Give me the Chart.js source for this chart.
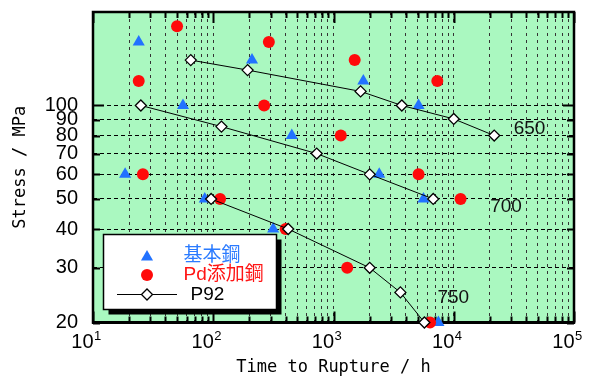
<!DOCTYPE html>
<html>
<head>
<meta charset="utf-8">
<script src="https://cdn.jsdelivr.net/npm/chart.js@4.4.1/dist/chart.umd.min.js"></script>
<style>
  html, body { margin: 0; padding: 0; background: #ffffff; }
  #wrap { width: 592px; height: 378px; position: relative; }
</style>
</head>
<body>
<div id="wrap"><canvas id="c" width="592" height="378"></canvas></div>
<script>
// Creep rupture data: time to rupture (h) vs. stress (MPa)
const baseSteel = [
  { x: 24, y: 160 }, { x: 56, y: 100 }, { x: 210, y: 140 }, { x: 1770, y: 120 },
  { x: 5100, y: 100 }, { x: 450, y: 80 }, { x: 18.5, y: 60 }, { x: 2400, y: 60 },
  { x: 5600, y: 50 }, { x: 85, y: 50 }, { x: 315, y: 40 }, { x: 7450, y: 20 }
];
const pdSteel = [
  { x: 50, y: 180 }, { x: 290, y: 160 }, { x: 24, y: 120 }, { x: 1500, y: 140 },
  { x: 7300, y: 120 }, { x: 265, y: 100 }, { x: 1150, y: 80 }, { x: 26, y: 60 },
  { x: 5100, y: 60 }, { x: 11400, y: 50 }, { x: 114, y: 50 }, { x: 400, y: 40 },
  { x: 1300, y: 30 }, { x: 6350, y: 20 }
];
const p92At650 = [
  { x: 65, y: 140 }, { x: 193, y: 130 }, { x: 1680, y: 111 }, { x: 3700, y: 100 },
  { x: 10000, y: 90.5 }, { x: 21700, y: 80 }
];
const p92At700 = [
  { x: 25, y: 100 }, { x: 117, y: 85.5 }, { x: 725, y: 70 }, { x: 2000, y: 60 }, { x: 6750, y: 50 }
];
const p92At750 = [
  { x: 96, y: 50 }, { x: 420, y: 40 }, { x: 2000, y: 30 }, { x: 3600, y: 25 }, { x: 5700, y: 20 }
];

// Temperature labels (°C) placed in data coordinates
const tempLabels = [
  { text: '650', x: 42700, y: 84.3 },
  { text: '700', x: 27200, y: 47.2 },
  { text: '750', x: 9910, y: 24.0 }
];

// Axis ticks
const yTickValues = [20, 30, 40, 50, 60, 70, 80, 90, 100];
const xTickExponents = [1, 2, 3, 4, 5];

const legendItems = [
  { text: '基本鋼', color: '#2b7bff', kind: 'triangle' },
  { text: 'Pd添加鋼', color: '#ff1414', kind: 'circle' },
  { text: 'P92', color: '#000000', kind: 'p92' }
];

const BLUE = '#2272ff';
const RED = '#ff0a0a';
const PLOT_BG = '#aaf8c0';

// x grid: 1..9 × 10^n inside the decade range
const xGridValues = [];
for (let i = 0; i < xTickExponents.length; i++) {
  const e = xTickExponents[i];
  if (i === xTickExponents.length - 1) { xGridValues.push(10 ** e); break; }
  for (let m = 1; m <= 9; m++) xGridValues.push(m * 10 ** e);
}
const xMajors = xTickExponents.map(e => 10 ** e);

const bgPlugin = {
  id: 'plotBg',
  beforeDraw(chart) {
    const { ctx, chartArea: a } = chart;
    ctx.save();
    ctx.fillStyle = PLOT_BG;
    ctx.fillRect(a.left, a.top, a.right - a.left, a.bottom - a.top);
    ctx.restore();
  }
};

const framePlugin = {
  id: 'frame',
  beforeDatasetsDraw(chart) {
    const { ctx, chartArea: a } = chart;
    const xs = chart.scales.x, ys = chart.scales.y;
    ctx.save();
    ctx.strokeStyle = '#000';
    ctx.lineWidth = 2;
    ctx.beginPath();
    xs.ticks.forEach(t => {
      const px = Math.round(xs.getPixelForValue(t.value)) + 0.5;
      const len = xMajors.includes(t.value) ? 11 : 6;
      ctx.moveTo(px, a.top); ctx.lineTo(px, a.top + len);
      ctx.moveTo(px, a.bottom); ctx.lineTo(px, a.bottom - len);
    });
    ys.ticks.forEach(t => {
      const py = Math.round(ys.getPixelForValue(t.value)) + 0.5;
      const len = t.value === 100 ? 11 : 7;
      ctx.moveTo(a.left, py); ctx.lineTo(a.left + len, py);
      ctx.moveTo(a.right, py); ctx.lineTo(a.right - len, py);
    });
    ctx.stroke();
    ctx.lineWidth = 2.5;
    ctx.strokeRect(a.left, a.top, a.right - a.left, a.bottom - a.top);
    ctx.lineWidth = 3;
    ctx.beginPath();
    ctx.moveTo(a.left - 1, a.bottom); ctx.lineTo(a.right + 1, a.bottom);
    ctx.stroke();
    ctx.restore();
  }
};

const xLabelPlugin = {
  id: 'xPowerLabels',
  afterDraw(chart) {
    const { ctx } = chart;
    const xs = chart.scales.x;
    ctx.save();
    ctx.fillStyle = '#000';
    ctx.textBaseline = 'alphabetic';
    xTickExponents.forEach(e => {
      const px = xs.getPixelForValue(10 ** e);
      ctx.font = "20px 'Liberation Sans Narrow', 'Liberation Sans', Arial, sans-serif";
      ctx.textAlign = 'right';
      ctx.fillText('10', px + 0.5, 348);
      ctx.font = "13px 'Liberation Sans', Arial, sans-serif";
      ctx.textAlign = 'left';
      ctx.fillText(String(e), px + 1, 340);
    });
    ctx.restore();
  }
};

function drawMarker(ctx, kind, x, y) {
  if (kind === 'triangle') {
    const r = 7;
    ctx.fillStyle = BLUE;
    ctx.beginPath();
    ctx.moveTo(x, y - r);
    ctx.lineTo(x + r * Math.sin(2 * Math.PI / 3), y - r * Math.cos(2 * Math.PI / 3));
    ctx.lineTo(x + r * Math.sin(4 * Math.PI / 3), y - r * Math.cos(4 * Math.PI / 3));
    ctx.closePath();
    ctx.fill();
  } else if (kind === 'circle') {
    ctx.fillStyle = RED;
    ctx.beginPath();
    ctx.arc(x, y, 6, 0, Math.PI * 2);
    ctx.fill();
  } else {
    ctx.strokeStyle = '#000';
    ctx.lineWidth = 1;
    ctx.beginPath();
    ctx.moveTo(x - 30, y); ctx.lineTo(x + 30, y);
    ctx.stroke();
    const r = 5.5;
    ctx.fillStyle = '#fff';
    ctx.lineWidth = 1.3;
    ctx.beginPath();
    ctx.moveTo(x - r, y); ctx.lineTo(x, y - r); ctx.lineTo(x + r, y); ctx.lineTo(x, y + r);
    ctx.closePath();
    ctx.fill();
    ctx.stroke();
  }
}

const overlayPlugin = {
  id: 'overlay',
  afterDatasetsDraw(chart) {
    const { ctx, chartArea: a } = chart;
    const xs = chart.scales.x, ys = chart.scales.y;
    ctx.save();
    // temperature labels
    ctx.fillStyle = '#111';
    ctx.font = "19px 'Liberation Sans Narrow', 'Liberation Sans', Arial, sans-serif";
    ctx.textAlign = 'center';
    ctx.textBaseline = 'middle';
    tempLabels.forEach(l => {
      ctx.fillText(l.text, xs.getPixelForValue(l.x), ys.getPixelForValue(l.y));
    });

    // legend box with drop shadow
    const bx = a.left + 10.5, by = a.top + 222.5, bw = 173, bh = 75, sh = 5;
    ctx.fillStyle = '#000';
    ctx.fillRect(bx + sh, by + sh, bw, bh);
    ctx.fillStyle = '#fff';
    ctx.fillRect(bx, by, bw, bh);
    ctx.strokeStyle = '#000';
    ctx.lineWidth = 1.5;
    ctx.strokeRect(bx, by, bw, bh);

    const symX = bx + 43.5;
    const textX = [bx + 80, bx + 80, bx + 87];
    const rowY = [by + 21, by + 40.5, by + 60];
    legendItems.forEach((it, i) => {
      drawMarker(ctx, it.kind, symX, rowY[i] + (it.kind === 'triangle' ? 1.5 : 0));
      ctx.fillStyle = it.color;
      ctx.font = "19px 'Liberation Sans', 'Noto Sans CJK JP', sans-serif";
      ctx.textAlign = 'left';
      ctx.textBaseline = 'middle';
      ctx.fillText(it.text, textX[i], rowY[i]);
    });
    ctx.restore();
  }
};

const p92Style = {
  showLine: true,
  borderColor: '#000',
  borderWidth: 1,
  pointStyle: 'rectRot',
  pointRadius: 5.5,
  pointBackgroundColor: '#fff',
  pointBorderColor: '#000',
  pointBorderWidth: 1.3,
  clip: false,
  order: 0
};

new Chart(document.getElementById('c'), {
  type: 'scatter',
  data: {
    datasets: [
      { label: 'P92 650', data: p92At650, ...p92Style },
      { label: 'P92 700', data: p92At700, ...p92Style },
      { label: 'P92 750', data: p92At750, ...p92Style },
      { label: 'Pd添加鋼', data: pdSteel, pointStyle: 'circle', pointRadius: 6,
        pointBackgroundColor: RED, pointBorderWidth: 0, clip: false, order: 1 },
      { label: '基本鋼', data: baseSteel, pointStyle: 'triangle', pointRadius: 7,
        pointBackgroundColor: BLUE, pointBorderWidth: 0, clip: false, order: 2 }
    ]
  },
  options: {
    responsive: false,
    animation: false,
    devicePixelRatio: 1,
    layout: { padding: { left: 0, top: 12, right: 18, bottom: 0 } },
    plugins: { legend: { display: false }, tooltip: { enabled: false } },
    scales: {
      x: {
        type: 'logarithmic',
        min: 10, max: 100000,
        afterBuildTicks: s => { s.ticks = xGridValues.map(v => ({ value: v })); },
        afterFit: s => { s.height = 55.5; s.paddingLeft = 0; s.paddingRight = 0; },
        ticks: { display: false },
        grid: { color: '#333', lineWidth: 1, drawTicks: false },
        border: { display: false, dash: [3, 4] },
        title: {
          display: true, text: 'Time to Rupture / h', color: '#000',
          font: { family: "'DejaVu Sans Mono', monospace", size: 17, lineHeight: 1 },
          padding: { top: 0, bottom: 1.5 }
        }
      },
      y: {
        type: 'logarithmic',
        min: 20, max: 200,
        afterBuildTicks: s => { s.ticks = yTickValues.map(v => ({ value: v })); },
        afterFit: s => { s.width = 93; s.paddingTop = 0; s.paddingBottom = 0; },
        ticks: {
          autoSkip: false, padding: 15, color: '#000',
          font: { family: "'Liberation Sans Narrow', 'Liberation Sans', Arial, sans-serif", size: 20 },
          callback: v => String(v)
        },
        grid: { color: '#000', lineWidth: 1, drawTicks: false },
        border: { display: false, dash: [4, 3] },
        title: {
          display: true, text: 'Stress / MPa', color: '#000',
          font: { family: "'DejaVu Sans Mono', monospace", size: 17, lineHeight: 1 },
          padding: { top: 12, bottom: 0 }
        }
      }
    }
  },
  plugins: [bgPlugin, framePlugin, xLabelPlugin, overlayPlugin]
});
</script>
</body>
</html>
